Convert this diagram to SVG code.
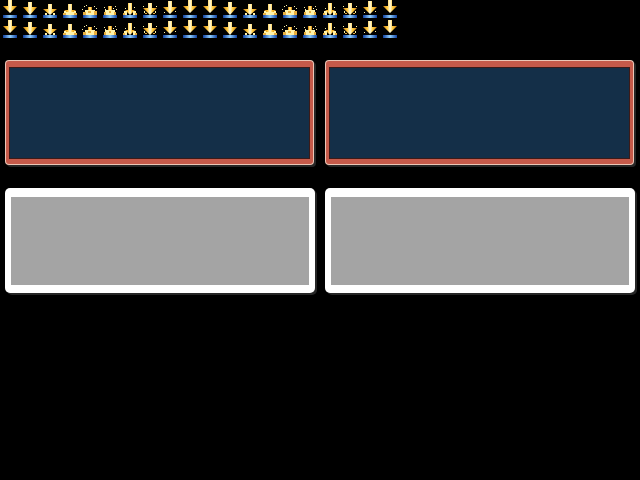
<svg xmlns="http://www.w3.org/2000/svg" xmlns:xlink="http://www.w3.org/1999/xlink" width="640" height="480" viewBox="0 0 640 480">
<defs>
<style>
.bg{fill:#000}
.gold{fill:url(#gold)}
.bar{fill:url(#blue)}
.sp{fill:#fff2a8}
.sp2{fill:#e8b040}
.edge{fill:#ecc6b6}
.red{fill:#c65a4a}
.inner{fill:#3c1a18}
.navy{fill:#142f48}
.shadow{fill:#262626}
.white{fill:#ffffff}
.gray{fill:#a4a4a4}
</style>
<linearGradient id="gold" x1="0" y1="0" x2="1" y2="0">
<stop offset="0" stop-color="#c87810"/>
<stop offset="0.3" stop-color="#ffc838"/>
<stop offset="0.5" stop-color="#fffbe0"/>
<stop offset="0.7" stop-color="#ffc838"/>
<stop offset="1" stop-color="#c87810"/>
</linearGradient>
<linearGradient id="blue" x1="0" y1="0" x2="1" y2="0">
<stop offset="0" stop-color="#1040a0"/>
<stop offset="0.5" stop-color="#90d0ff"/>
<stop offset="1" stop-color="#1040a0"/>
</linearGradient>
<g id="barg"><rect class="bar" x="3" y="15" width="14" height="3"/></g>
<g id="f1"><use xlink:href="#barg"/><path class="gold" d="M8,0h4v6h5l-7,7l-7,-7h5z"/></g>
<g id="f2"><use xlink:href="#barg"/><path class="gold" d="M8,2h4v5h5l-7,8l-7,-8h5z"/></g>
<g id="f3"><use xlink:href="#barg"/><path class="gold" d="M8,4h4v5h5l-7,6l-7,-6h5z"/><rect class="sp" x="5" y="13" width="2" height="2"/><rect class="sp" x="13" y="13" width="2" height="2"/></g>
<g id="f4"><use xlink:href="#barg"/><path class="gold" d="M8,4h4v6h4l-6,5l-6,-5h4z"/><rect class="sp" x="4" y="11" width="2" height="2"/><rect class="sp" x="14" y="11" width="2" height="2"/><rect class="sp2" x="3" y="13" width="3" height="2"/><rect class="sp2" x="14" y="13" width="3" height="2"/><rect class="sp" x="6" y="12" width="8" height="3"/></g>
<g id="f5"><use xlink:href="#barg"/><rect class="gold" x="8" y="7" width="4" height="4"/><rect class="sp" x="5" y="10" width="10" height="5"/><rect class="sp2" x="3" y="12" width="3" height="3"/><rect class="sp2" x="14" y="11" width="3" height="4"/><rect class="sp" x="4" y="6" width="1" height="1"/><rect class="sp" x="6" y="5" width="1" height="1"/><rect class="sp" x="14" y="6" width="1" height="1"/><rect class="sp" x="16" y="8" width="1" height="1"/><rect class="sp" x="2" y="9" width="1" height="1"/><rect class="sp2" x="8" y="11" width="3" height="2"/></g>
<g id="f6"><use xlink:href="#barg"/><rect class="gold" x="8" y="6" width="4" height="5"/><rect class="sp" x="5" y="10" width="10" height="5"/><rect class="sp2" x="4" y="12" width="2" height="3"/><rect class="sp2" x="14" y="12" width="2" height="3"/><rect class="sp" x="4" y="7" width="1" height="1"/><rect class="sp" x="5" y="9" width="1" height="1"/><rect class="sp" x="15" y="6" width="1" height="1"/><rect class="sp" x="16" y="9" width="1" height="1"/><rect class="sp" x="13" y="8" width="1" height="1"/><rect class="sp2" x="9" y="11" width="2" height="2"/></g>
<g id="f7"><use xlink:href="#barg"/><path class="gold" d="M8,3h4v7h3l-5,5l-5,-5h3z"/><rect class="sp" x="4" y="11" width="3" height="4"/><rect class="sp" x="13" y="11" width="3" height="4"/><rect class="sp2" x="3" y="13" width="2" height="2"/><rect class="sp2" x="15" y="13" width="2" height="2"/><rect class="sp" x="5" y="8" width="1" height="1"/><rect class="sp" x="14" y="7" width="1" height="1"/></g>
<g id="f8"><use xlink:href="#barg"/><path class="gold" d="M8,3h4v5h5l-7,7l-7,-7h5z"/><rect class="sp" x="3" y="6" width="1" height="1"/><rect class="sp" x="16" y="6" width="1" height="1"/><rect class="sp" x="4" y="11" width="1" height="2"/><rect class="sp" x="15" y="11" width="1" height="2"/><rect class="sp2" x="5" y="13" width="2" height="1"/><rect class="sp2" x="13" y="13" width="2" height="1"/></g>
<g id="f9"><use xlink:href="#barg"/><path class="gold" d="M8,1h4v6h5l-7,7l-7,-7h5z"/><rect class="sp" x="15" y="11" width="1" height="1"/><rect class="sp" x="4" y="12" width="1" height="1"/></g>
<g id="f10"><use xlink:href="#barg"/><path class="gold" d="M8,0h4v6h5l-7,7l-7,-7h5z"/></g>
<g id="strip">
<use xlink:href="#f1" x="0"/><use xlink:href="#f2" x="20"/><use xlink:href="#f3" x="40"/><use xlink:href="#f4" x="60"/><use xlink:href="#f5" x="80"/><use xlink:href="#f6" x="100"/><use xlink:href="#f7" x="120"/><use xlink:href="#f8" x="140"/><use xlink:href="#f9" x="160"/><use xlink:href="#f10" x="180"/>
</g>
</defs>
<rect class="bg" x="0" y="0" width="640" height="480"/>
<g id="arrows">
<use xlink:href="#strip" x="0" y="0"/>
<use xlink:href="#strip" x="200" y="0"/>
<use xlink:href="#strip" x="0" y="20"/>
<use xlink:href="#strip" x="200" y="20"/>
</g>
<g id="panel-blue-left">
<rect class="shadow" x="7" y="62" width="309" height="105" rx="4"/>
<rect class="edge" x="5" y="60" width="309" height="105" rx="4"/>
<rect class="red" x="6" y="61" width="307" height="103" rx="3"/>
<rect class="inner" x="9" y="67" width="301" height="92"/>
<rect class="navy" x="10" y="68" width="299" height="90"/>
</g>
<g id="panel-blue-right">
<rect class="shadow" x="327" y="62" width="309" height="105" rx="4"/>
<rect class="edge" x="325" y="60" width="309" height="105" rx="4"/>
<rect class="red" x="326" y="61" width="307" height="103" rx="3"/>
<rect class="inner" x="329" y="67" width="301" height="92"/>
<rect class="navy" x="330" y="68" width="299" height="90"/>
</g>
<g id="panel-gray-left">
<rect class="shadow" x="7" y="190" width="310" height="105" rx="5"/>
<rect class="white" x="5" y="188" width="310" height="105" rx="5"/>
<rect class="gray" x="11" y="197" width="298" height="88"/>
</g>
<g id="panel-gray-right">
<rect class="shadow" x="327" y="190" width="310" height="105" rx="5"/>
<rect class="white" x="325" y="188" width="310" height="105" rx="5"/>
<rect class="gray" x="331" y="197" width="298" height="88"/>
</g>
<g id="connectors"/>
</svg>
